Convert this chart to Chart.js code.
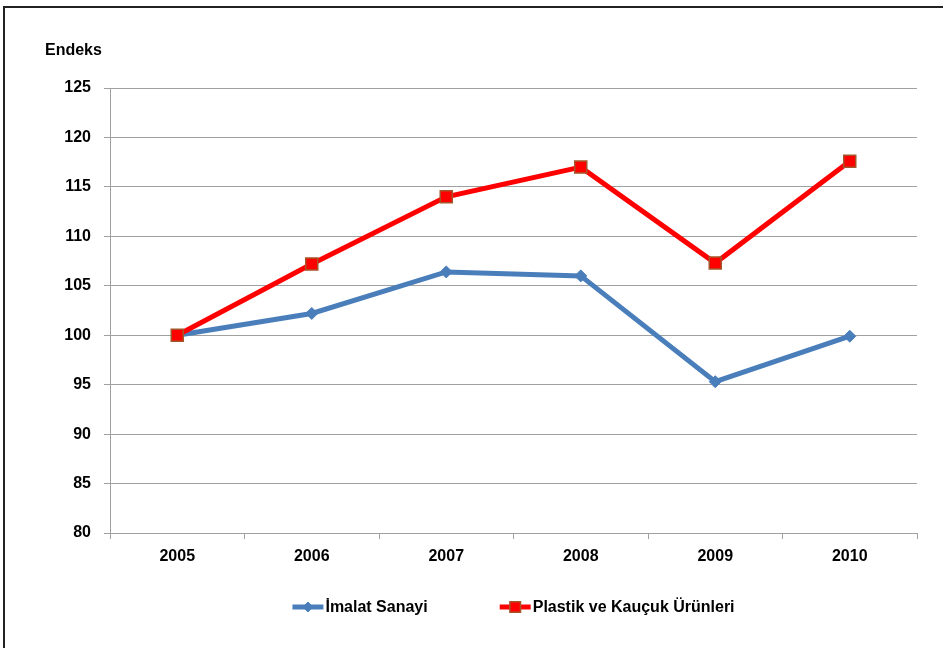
<!DOCTYPE html>
<html>
<head>
<meta charset="utf-8">
<script src="https://cdn.jsdelivr.net/npm/chart.js@4/dist/chart.umd.min.js"></script>
<style>
  html, body { margin: 0; padding: 0; background: #fff; }
  #wrap { position: relative; width: 943px; height: 648px; overflow: hidden; }
  #frame { position: absolute; left: 3px; top: 6px; width: 960px; height: 700px;
           border-left: 2px solid #222; border-top: 2px solid #222; }
  canvas { position: absolute; left: 0; top: 0; }
</style>
</head>
<body>
<div id="wrap">
  <div id="frame"></div>
  <canvas id="c" width="943" height="648"></canvas>
</div>
<script>
const years = ['2005', '2006', '2007', '2008', '2009', '2010'];
const imalatSanayi = [100, 102.2, 106.4, 106.0, 95.3, 99.9];
const plastikKaucuk = [100, 107.2, 114.0, 117.0, 107.3, 117.6];
const seriesNames = ['İmalat Sanayi', 'Plastik ve Kauçuk Ürünleri'];
const yAxisTitle = 'Endeks';

const FONT = '"Liberation Sans", Arial, sans-serif';
const GRID = '#a0a0a0';
const BLUE = '#4a7ebb';
const RED = '#ff0000';

const titlePlugin = {
  id: 'yTitle',
  afterDraw(chart) {
    const ctx = chart.ctx;
    ctx.save();
    ctx.font = 'bold 16px ' + FONT;
    ctx.fillStyle = '#000';
    ctx.textBaseline = 'alphabetic';
    ctx.textAlign = 'left';
    ctx.fillText(yAxisTitle, 45, 55);
    ctx.restore();
  }
};

const legendPlugin = {
  id: 'lineLegend',
  afterDraw(chart) {
    const ctx = chart.ctx;
    const area = chart.chartArea;
    ctx.save();
    ctx.font = 'bold 16px ' + FONT;
    const lineLen = 31, textGap = 2, itemGap = 72;
    const ds = chart.data.datasets;
    const widths = ds.map(d => lineLen + textGap + ctx.measureText(d.label).width);
    const total = widths.reduce((a, b) => a + b, 0) + itemGap * (ds.length - 1);
    let x = (area.left + area.right) / 2 - total / 2;
    const y = 607;
    ds.forEach((d, i) => {
      ctx.strokeStyle = d.borderColor;
      ctx.lineWidth = d.borderWidth;
      ctx.beginPath();
      ctx.moveTo(x, y);
      ctx.lineTo(x + lineLen, y);
      ctx.stroke();
      ctx.fillStyle = d.pointBackgroundColor;
      ctx.strokeStyle = d.pointBorderColor;
      ctx.lineWidth = d.pointBorderWidth;
      Chart.helpers.drawPoint(ctx, {
        pointStyle: d.pointStyle,
        radius: d.legendRadius,
        borderWidth: d.pointBorderWidth,
        rotation: 0
      }, x + lineLen / 2, y);
      ctx.fillStyle = '#000';
      ctx.textAlign = 'left';
      ctx.textBaseline = 'middle';
      ctx.fillText(d.label, x + lineLen + textGap, y + 1);
      x += widths[i] + itemGap;
    });
    ctx.restore();
  }
};

new Chart(document.getElementById('c'), {
  type: 'line',
  data: {
    labels: years,
    datasets: [
      {
        label: seriesNames[0],
        data: imalatSanayi,
        borderColor: BLUE,
        borderWidth: 5,
        pointStyle: 'rectRot',
        pointRadius: 6,
        legendRadius: 5,
        pointBackgroundColor: BLUE,
        pointBorderColor: BLUE,
        pointBorderWidth: 1,
        tension: 0,
        order: 1
      },
      {
        label: seriesNames[1],
        data: plastikKaucuk,
        borderColor: RED,
        borderWidth: 5,
        pointStyle: 'rect',
        pointRadius: 8.5,
        legendRadius: 7.5,
        pointBackgroundColor: RED,
        pointBorderColor: '#a5552a',
        pointBorderWidth: 1.5,
        tension: 0,
        order: 0
      }
    ]
  },
  options: {
    responsive: false,
    animation: false,
    events: [],
    layout: { padding: { top: 88, right: 26, bottom: 0, left: 0 } },
    plugins: {
      legend: { display: false },
      tooltip: { enabled: false },
      title: { display: false }
    },
    scales: {
      x: {
        offset: true,
        grid: {
          offset: true,
          drawOnChartArea: false,
          color: GRID,
          tickLength: 6,
          lineWidth: 1
        },
        border: { color: GRID, width: 1 },
        ticks: {
          color: '#000',
          font: { family: FONT, size: 16, weight: 'bold' },
          padding: 8,
          maxRotation: 0
        },
        afterFit(scale) { scale.height = 115; }
      },
      y: {
        min: 80,
        max: 125,
        ticks: {
          stepSize: 5,
          color: '#000',
          font: { family: FONT, size: 16, weight: 'bold' },
          padding: 13
        },
        grid: {
          color: GRID,
          tickLength: 6,
          lineWidth: 1
        },
        border: { color: GRID, width: 1 },
        afterFit(scale) { scale.width = 110; }
      }
    }
  },
  plugins: [titlePlugin, legendPlugin]
});
</script>
</body>
</html>
